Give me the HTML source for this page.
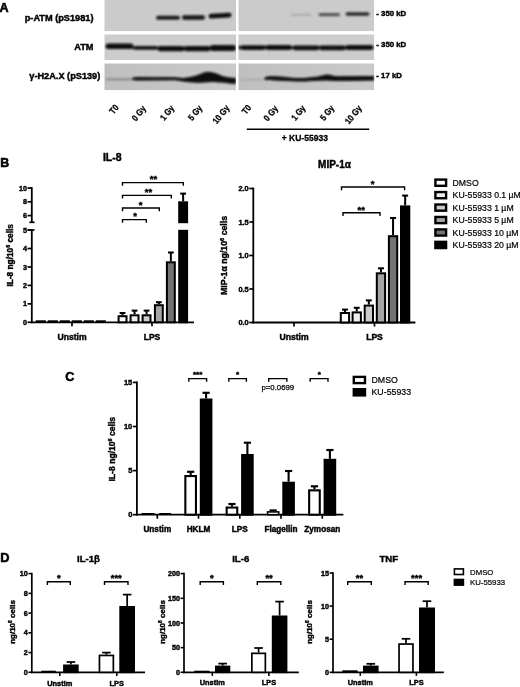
<!DOCTYPE html>
<html lang="en"><head><meta charset="utf-8"><title>Figure</title>
<style>
html,body{margin:0;padding:0;background:#fff;}
body{width:520px;height:687px;overflow:hidden;}
svg{display:block;filter:blur(0.35px);font-family:'Liberation Sans', Arial, sans-serif;fill:#000;}
</style></head><body>
<svg width="520" height="687" viewBox="0 0 520 687">
<defs>
<filter id="b1" x="-5%" y="-50%" width="110%" height="200%"><feGaussianBlur stdDeviation="0.9"/></filter>
<linearGradient id="g3" x1="0" y1="0" x2="1" y2="0"><stop offset="0" stop-color="#bfbfbf"/><stop offset="1" stop-color="#cacaca"/></linearGradient>
<filter id="b2" x="-5%" y="-100%" width="110%" height="300%"><feGaussianBlur stdDeviation="1.1"/></filter>
</defs>
<rect x="0" y="0" width="520" height="687" fill="#fff"/>
<rect x="104.30" y="0.00" width="131.70" height="31.30" fill="#cbcbcb"/>
<rect x="238.30" y="0.00" width="136.00" height="31.30" fill="#cbcbcb"/>
<rect x="104.30" y="34.30" width="131.70" height="25.70" fill="#cdcdcd"/>
<rect x="238.30" y="34.30" width="136.00" height="25.70" fill="#cdcdcd"/>
<rect x="104.30" y="63.30" width="131.70" height="27.00" fill="url(#g3)"/>
<rect x="238.30" y="63.30" width="136.00" height="27.00" fill="url(#g3)"/>
<g filter="url(#b1)">
<rect x="156" y="15.8" width="24" height="4.0" rx="2.0" fill="#1c1c1c" opacity="1"/>
<rect x="182" y="15.3" width="23" height="4.4" rx="2.2" fill="#161616" opacity="1"/>
<rect x="208.5" y="13.25" width="23.0" height="4.7" rx="2.35" fill="#101010" opacity="1" transform="rotate(-3 220.0 15.6)"/>
<rect x="291" y="13.5" width="20" height="2.6" rx="1.3" fill="#777" opacity="0.35"/>
<rect x="318.5" y="13.0" width="21.5" height="3.2" rx="1.6" fill="#3a3a3a" opacity="0.8"/>
<rect x="345.5" y="12.2" width="24.0" height="3.6" rx="1.8" fill="#222" opacity="0.95"/>
<rect x="105.5" y="43.5" width="28.0" height="5.4" rx="2.7" fill="#0c0c0c" opacity="1"/>
<rect x="133.5" y="45.9" width="24.5" height="3.8" rx="1.9" fill="#0c0c0c" opacity="1"/>
<rect x="157.5" y="46.0" width="27.099999999999994" height="5.2" rx="2.6" fill="#0c0c0c" opacity="1"/>
<rect x="183.8" y="45.9" width="26.799999999999983" height="5.4" rx="2.7" fill="#0c0c0c" opacity="1"/>
<rect x="209.8" y="45.1" width="26.19999999999999" height="5.8" rx="2.9" fill="#0c0c0c" opacity="1"/>
<rect x="130" y="46.9" width="106" height="2.2" rx="1.1" fill="#0c0c0c" opacity="1"/>
<rect x="238.3" y="45.5" width="2.1999999999999886" height="4" rx="2.0" fill="#0c0c0c" opacity="1"/>
<rect x="240.5" y="45.2" width="25.5" height="4.8" rx="2.4" fill="#0c0c0c" opacity="1"/>
<rect x="265.5" y="45.1" width="26.5" height="5.0" rx="2.5" fill="#0c0c0c" opacity="1"/>
<rect x="292.5" y="45.4" width="27.0" height="4.8" rx="2.4" fill="#0c0c0c" opacity="1"/>
<rect x="319" y="45.4" width="27" height="4.8" rx="2.4" fill="#0c0c0c" opacity="1"/>
<rect x="345.5" y="44.9" width="28.0" height="5.0" rx="2.5" fill="#0c0c0c" opacity="1"/>
<rect x="238.3" y="46.5" width="133.7" height="2.2" rx="1.1" fill="#0c0c0c" opacity="1"/>
</g>
<g filter="url(#b2)">
<rect x="106" y="78.1" width="28" height="2.4" fill="#666" opacity="0.55"/>
<rect x="241" y="78.6" width="25" height="2" fill="#888" opacity="0.35"/>
</g>
<g filter="url(#b1)">
<path d="M132 78.7 C133 77 136 77 140 77 L175 77.3 L183 77.9 C188 77.6 192 76.6 197 75.2 C201 74 204 71.7 207.7 71.7 C211 71.7 213 72.6 215.8 73.3 C219 74.4 221 75.8 224 76.5 C228 77.4 231 77.8 236 77.9 L236 83.5 C234 84.2 232 84 230 83.6 C227 83 225 82.7 222 82.5 C218 82.2 215 81.9 212 81.9 C206 82.2 201 82.8 197 82.7 C192 82.6 187 82.2 183.5 81.5 L175 80.3 L140 80.4 C136 80.4 133 80.4 132 78.7Z" fill="#080808"/>
<path d="M264.3 78.6 C265 76.2 269 76.1 274 76.2 C282 76.4 290 77.6 296 78 C304 78.2 312 77.2 318 76.4 C322 75.6 325 74.4 327 74.4 C330 74.4 333 76 338 76.2 L360 76 L374.3 76 L374.3 80.6 L350 81 C340 81.2 332 80.6 326 80.4 C316 80.4 308 81.4 298 81.5 C290 81.5 282 80.6 274 80.5 C269 80.4 265 80.6 264.3 78.6Z" fill="#080808"/>
</g>
<rect x="236.00" y="0.00" width="2.30" height="91.00" fill="#fff"/>
<rect x="100.00" y="31.30" width="280.00" height="3.00" fill="#fff"/>
<rect x="100.00" y="60.00" width="280.00" height="3.30" fill="#fff"/>
<rect x="374.30" y="0.00" width="2.00" height="91.00" fill="#fff"/>
<rect x="102.00" y="0.00" width="2.30" height="91.00" fill="#fff"/>
<rect x="100.00" y="90.30" width="280.00" height="2.00" fill="#fff"/>
<text x="-0.6" y="11.6" font-size="12.6" font-weight="700" text-anchor="start" stroke="#000" stroke-width="0.55">A</text>
<text x="93.5" y="21.2" font-size="9.2" font-weight="700" text-anchor="end" stroke="#000" stroke-width="0.42">p-ATM (pS1981)</text>
<text x="93.5" y="50.4" font-size="9.2" font-weight="700" text-anchor="end" stroke="#000" stroke-width="0.42">ATM</text>
<text x="100.3" y="79.2" font-size="9.2" font-weight="700" text-anchor="end" stroke="#000" stroke-width="0.42">γ-H2A.X (pS139)</text>
<text x="376.3" y="16.4" font-size="7.8" font-weight="700" text-anchor="start" stroke="#000" stroke-width="0.42">- 350 kD</text>
<text x="376.3" y="47.1" font-size="7.8" font-weight="700" text-anchor="start" stroke="#000" stroke-width="0.42">- 350 kD</text>
<text x="376.3" y="78.4" font-size="7.8" font-weight="700" text-anchor="start" stroke="#000" stroke-width="0.42">- 17 kD</text>
<text x="0" y="0" font-size="9" font-weight="700" text-anchor="middle" dominant-baseline="central" stroke="#000" stroke-width="0.3" transform="translate(113.8 109.2) rotate(-51) scale(0.86 1)">T0</text>
<text x="0" y="0" font-size="9" font-weight="700" text-anchor="middle" dominant-baseline="central" stroke="#000" stroke-width="0.3" transform="translate(138.8 113.2) rotate(-51) scale(0.86 1)">0 Gy</text>
<text x="0" y="0" font-size="9" font-weight="700" text-anchor="middle" dominant-baseline="central" stroke="#000" stroke-width="0.3" transform="translate(167 112.8) rotate(-51) scale(0.86 1)">1 Gy</text>
<text x="0" y="0" font-size="9" font-weight="700" text-anchor="middle" dominant-baseline="central" stroke="#000" stroke-width="0.3" transform="translate(195 112.8) rotate(-51) scale(0.86 1)">5 Gy</text>
<text x="0" y="0" font-size="9" font-weight="700" text-anchor="middle" dominant-baseline="central" stroke="#000" stroke-width="0.3" transform="translate(220.8 114.4) rotate(-51) scale(0.86 1)">10 Gy</text>
<text x="0" y="0" font-size="9" font-weight="700" text-anchor="middle" dominant-baseline="central" stroke="#000" stroke-width="0.3" transform="translate(246.4 109.4) rotate(-51) scale(0.86 1)">T0</text>
<text x="0" y="0" font-size="9" font-weight="700" text-anchor="middle" dominant-baseline="central" stroke="#000" stroke-width="0.3" transform="translate(270.6 113.2) rotate(-51) scale(0.86 1)">0 Gy</text>
<text x="0" y="0" font-size="9" font-weight="700" text-anchor="middle" dominant-baseline="central" stroke="#000" stroke-width="0.3" transform="translate(298.2 112.8) rotate(-51) scale(0.86 1)">1 Gy</text>
<text x="0" y="0" font-size="9" font-weight="700" text-anchor="middle" dominant-baseline="central" stroke="#000" stroke-width="0.3" transform="translate(327 112.8) rotate(-51) scale(0.86 1)">5 Gy</text>
<text x="0" y="0" font-size="9" font-weight="700" text-anchor="middle" dominant-baseline="central" stroke="#000" stroke-width="0.3" transform="translate(353.2 114.6) rotate(-51) scale(0.86 1)">10 Gy</text>
<line x1="246.8" y1="129.3" x2="369.2" y2="129.3" stroke="#000" stroke-width="1.6"/>
<text x="0" y="0" font-size="9.5" font-weight="700" text-anchor="middle" stroke="#000" stroke-width="0.3" transform="translate(304.8 141) scale(0.9 1)">+ KU-55933</text>
<text x="0.3" y="166.6" font-size="12.4" font-weight="700" text-anchor="start" stroke="#000" stroke-width="0.55">B</text>
<text x="112.3" y="161.4" font-size="10.5" font-weight="700" text-anchor="middle" stroke="#000" stroke-width="0.42">IL-8</text>
<line x1="31.8" y1="187.1" x2="31.8" y2="222.3" stroke="#000" stroke-width="1.8"/>
<line x1="31.8" y1="229.1" x2="31.8" y2="323.2" stroke="#000" stroke-width="1.8"/>
<line x1="29.400000000000002" y1="222.3" x2="34.6" y2="222.3" stroke="#000" stroke-width="1.7"/>
<line x1="27.5" y1="230" x2="34.6" y2="230" stroke="#000" stroke-width="1.7"/>
<line x1="27.5" y1="322.3" x2="31.8" y2="322.3" stroke="#000" stroke-width="1.7"/>
<text x="27.1" y="324.90000000000003" font-size="7.2" font-weight="700" text-anchor="end" stroke="#000" stroke-width="0.42">0</text>
<line x1="27.5" y1="303.85" x2="31.8" y2="303.85" stroke="#000" stroke-width="1.7"/>
<text x="27.1" y="306.45000000000005" font-size="7.2" font-weight="700" text-anchor="end" stroke="#000" stroke-width="0.42">1</text>
<line x1="27.5" y1="285.40000000000003" x2="31.8" y2="285.40000000000003" stroke="#000" stroke-width="1.7"/>
<text x="27.1" y="288.00000000000006" font-size="7.2" font-weight="700" text-anchor="end" stroke="#000" stroke-width="0.42">2</text>
<line x1="27.5" y1="266.95000000000005" x2="31.8" y2="266.95000000000005" stroke="#000" stroke-width="1.7"/>
<text x="27.1" y="269.55000000000007" font-size="7.2" font-weight="700" text-anchor="end" stroke="#000" stroke-width="0.42">3</text>
<line x1="27.5" y1="248.5" x2="31.8" y2="248.5" stroke="#000" stroke-width="1.7"/>
<text x="27.1" y="251.1" font-size="7.2" font-weight="700" text-anchor="end" stroke="#000" stroke-width="0.42">4</text>
<line x1="27.5" y1="230" x2="31.8" y2="230" stroke="#000" stroke-width="1.7"/>
<text x="27.1" y="232.6" font-size="7.2" font-weight="700" text-anchor="end" stroke="#000" stroke-width="0.42">5</text>
<line x1="27.5" y1="215.6" x2="31.8" y2="215.6" stroke="#000" stroke-width="1.7"/>
<text x="27.1" y="218.2" font-size="7.2" font-weight="700" text-anchor="end" stroke="#000" stroke-width="0.42">6</text>
<line x1="27.5" y1="201.8" x2="31.8" y2="201.8" stroke="#000" stroke-width="1.7"/>
<text x="27.1" y="204.4" font-size="7.2" font-weight="700" text-anchor="end" stroke="#000" stroke-width="0.42">8</text>
<line x1="27.5" y1="188.0" x2="31.8" y2="188.0" stroke="#000" stroke-width="1.7"/>
<text x="27.1" y="190.6" font-size="7.2" font-weight="700" text-anchor="end" stroke="#000" stroke-width="0.42">10</text>
<line x1="30.900000000000002" y1="322.3" x2="194" y2="322.3" stroke="#000" stroke-width="1.8"/>
<line x1="72" y1="322.3" x2="72" y2="326.3" stroke="#000" stroke-width="1.7"/>
<line x1="152" y1="322.3" x2="152" y2="326.3" stroke="#000" stroke-width="1.7"/>
<text x="72" y="340" font-size="8.6" font-weight="700" text-anchor="middle" stroke="#000" stroke-width="0.42">Unstim</text>
<text x="152" y="340" font-size="8.6" font-weight="700" text-anchor="middle" stroke="#000" stroke-width="0.42">LPS</text>
<text x="12.6" y="255.3" font-size="8.3" font-weight="700" text-anchor="middle" transform="rotate(-90 12.6 255.3)" stroke="#000" stroke-width="0.4">IL-8 ng/10<tspan font-size="5.4" dy="-3">6</tspan><tspan dy="3"> cells</tspan></text>
<rect x="35.70" y="320.30" width="10.20" height="2.10" fill="#000"/>
<rect x="47.70" y="320.30" width="10.20" height="2.10" fill="#000"/>
<rect x="59.70" y="320.30" width="10.20" height="2.10" fill="#000"/>
<rect x="71.70" y="320.30" width="10.20" height="2.10" fill="#000"/>
<rect x="83.70" y="320.30" width="10.20" height="2.10" fill="#000"/>
<rect x="95.70" y="320.30" width="10.20" height="2.10" fill="#000"/>
<line x1="122.55" y1="315.2" x2="122.55" y2="313" stroke="#000" stroke-width="2.0"/>
<line x1="119.64999999999999" y1="313" x2="125.45" y2="313" stroke="#000" stroke-width="2.04"/>
<rect x="118.60" y="316.20" width="7.90" height="6.10" fill="#ffffff" stroke="#000" stroke-width="2.0"/>
<line x1="134.55" y1="314.3" x2="134.55" y2="310.6" stroke="#000" stroke-width="2.0"/>
<line x1="131.65" y1="310.6" x2="137.45000000000002" y2="310.6" stroke="#000" stroke-width="2.04"/>
<rect x="130.60" y="315.30" width="7.90" height="7.00" fill="#efefef" stroke="#000" stroke-width="2.0"/>
<line x1="146.55" y1="314.3" x2="146.55" y2="310.6" stroke="#000" stroke-width="2.0"/>
<line x1="143.65" y1="310.6" x2="149.45000000000002" y2="310.6" stroke="#000" stroke-width="2.04"/>
<rect x="142.60" y="315.30" width="7.90" height="7.00" fill="#cccccc" stroke="#000" stroke-width="2.0"/>
<line x1="158.85000000000002" y1="304.2" x2="158.85000000000002" y2="302.2" stroke="#000" stroke-width="2.0"/>
<line x1="155.95000000000002" y1="302.2" x2="161.75000000000003" y2="302.2" stroke="#000" stroke-width="2.04"/>
<rect x="154.90" y="305.20" width="7.90" height="17.10" fill="#a6a6a6" stroke="#000" stroke-width="2.0"/>
<line x1="170.85000000000002" y1="261.3" x2="170.85000000000002" y2="252.5" stroke="#000" stroke-width="2.0"/>
<line x1="167.95000000000002" y1="252.5" x2="173.75000000000003" y2="252.5" stroke="#000" stroke-width="2.04"/>
<rect x="166.90" y="262.30" width="7.90" height="60.00" fill="#747474" stroke="#000" stroke-width="2.0"/>
<line x1="183.14999999999998" y1="201.3" x2="183.14999999999998" y2="193.6" stroke="#000" stroke-width="2.0"/>
<line x1="180.24999999999997" y1="193.6" x2="186.04999999999998" y2="193.6" stroke="#000" stroke-width="2.04"/>
<rect x="179.20" y="202.30" width="7.90" height="120.00" fill="#000000" stroke="#000" stroke-width="2.0"/>
<rect x="176.00" y="223.20" width="14.00" height="6.60" fill="#fff"/>
<path d="M122.5 185.79999999999998V182.6H183.3V185.79999999999998" fill="none" stroke="#000" stroke-width="1.4"/>
<text x="153.5" y="182.4" font-size="9.5" font-weight="700" text-anchor="middle" stroke="#000" stroke-width="0.42">**</text>
<path d="M122.5 198.6V195.4H171.3V198.6" fill="none" stroke="#000" stroke-width="1.4"/>
<text x="148.5" y="195.2" font-size="9.5" font-weight="700" text-anchor="middle" stroke="#000" stroke-width="0.42">**</text>
<path d="M122.5 211.2V208H159.3V211.2" fill="none" stroke="#000" stroke-width="1.4"/>
<text x="140.5" y="207.8" font-size="9.5" font-weight="700" text-anchor="middle" stroke="#000" stroke-width="0.42">*</text>
<path d="M122.5 222.79999999999998V219.6H146.3V222.79999999999998" fill="none" stroke="#000" stroke-width="1.4"/>
<text x="135" y="219.4" font-size="9.5" font-weight="700" text-anchor="middle" stroke="#000" stroke-width="0.42">*</text>
<text x="334.5" y="167.8" font-size="10" font-weight="700" text-anchor="middle" stroke="#000" stroke-width="0.42">MIP-1α</text>
<line x1="253.3" y1="187.6" x2="253.3" y2="323.4" stroke="#000" stroke-width="1.8"/>
<line x1="249.3" y1="322.5" x2="253.3" y2="322.5" stroke="#000" stroke-width="1.7"/>
<text x="248.70000000000002" y="325.2" font-size="7.4" font-weight="700" text-anchor="end" stroke="#000" stroke-width="0.42">0.0</text>
<line x1="249.3" y1="289.0" x2="253.3" y2="289.0" stroke="#000" stroke-width="1.7"/>
<text x="248.70000000000002" y="291.7" font-size="7.4" font-weight="700" text-anchor="end" stroke="#000" stroke-width="0.42">0.5</text>
<line x1="249.3" y1="255.5" x2="253.3" y2="255.5" stroke="#000" stroke-width="1.7"/>
<text x="248.70000000000002" y="258.2" font-size="7.4" font-weight="700" text-anchor="end" stroke="#000" stroke-width="0.42">1.0</text>
<line x1="249.3" y1="222.0" x2="253.3" y2="222.0" stroke="#000" stroke-width="1.7"/>
<text x="248.70000000000002" y="224.7" font-size="7.4" font-weight="700" text-anchor="end" stroke="#000" stroke-width="0.42">1.5</text>
<line x1="249.3" y1="188.5" x2="253.3" y2="188.5" stroke="#000" stroke-width="1.7"/>
<text x="248.70000000000002" y="191.2" font-size="7.4" font-weight="700" text-anchor="end" stroke="#000" stroke-width="0.42">2.0</text>
<line x1="252.4" y1="322.5" x2="415.4" y2="322.5" stroke="#000" stroke-width="1.8"/>
<line x1="294" y1="322.5" x2="294" y2="326.5" stroke="#000" stroke-width="1.7"/>
<line x1="374.5" y1="322.5" x2="374.5" y2="326.5" stroke="#000" stroke-width="1.7"/>
<text x="294" y="340" font-size="8.6" font-weight="700" text-anchor="middle" stroke="#000" stroke-width="0.42">Unstim</text>
<text x="374.5" y="340" font-size="8.6" font-weight="700" text-anchor="middle" stroke="#000" stroke-width="0.42">LPS</text>
<text x="227.4" y="255.4" font-size="8.75" font-weight="700" text-anchor="middle" transform="rotate(-90 227.4 255.4)" stroke="#000" stroke-width="0.4">MIP-1α ng/10<tspan font-size="5.6" dy="-3.2">6</tspan><tspan dy="3.2"> cells</tspan></text>
<line x1="344.95" y1="312" x2="344.95" y2="309.6" stroke="#000" stroke-width="2.0"/>
<line x1="341.95" y1="309.6" x2="347.95" y2="309.6" stroke="#000" stroke-width="2.04"/>
<rect x="340.80" y="313.00" width="8.30" height="9.50" fill="#ffffff" stroke="#000" stroke-width="2.0"/>
<line x1="356.75" y1="311.4" x2="356.75" y2="307.8" stroke="#000" stroke-width="2.0"/>
<line x1="353.75" y1="307.8" x2="359.75" y2="307.8" stroke="#000" stroke-width="2.04"/>
<rect x="352.60" y="312.40" width="8.30" height="10.10" fill="#efefef" stroke="#000" stroke-width="2.0"/>
<line x1="368.85" y1="304.6" x2="368.85" y2="300.4" stroke="#000" stroke-width="2.0"/>
<line x1="365.85" y1="300.4" x2="371.85" y2="300.4" stroke="#000" stroke-width="2.04"/>
<rect x="364.70" y="305.60" width="8.30" height="16.90" fill="#cccccc" stroke="#000" stroke-width="2.0"/>
<line x1="380.95" y1="272.3" x2="380.95" y2="268.3" stroke="#000" stroke-width="2.0"/>
<line x1="377.95" y1="268.3" x2="383.95" y2="268.3" stroke="#000" stroke-width="2.04"/>
<rect x="376.80" y="273.30" width="8.30" height="49.20" fill="#a6a6a6" stroke="#000" stroke-width="2.0"/>
<line x1="393.05" y1="235.2" x2="393.05" y2="218" stroke="#000" stroke-width="2.0"/>
<line x1="390.05" y1="218" x2="396.05" y2="218" stroke="#000" stroke-width="2.04"/>
<rect x="388.90" y="236.20" width="8.30" height="86.30" fill="#747474" stroke="#000" stroke-width="2.0"/>
<line x1="405.15" y1="205.4" x2="405.15" y2="195.6" stroke="#000" stroke-width="2.0"/>
<line x1="402.15" y1="195.6" x2="408.15" y2="195.6" stroke="#000" stroke-width="2.04"/>
<rect x="401.00" y="206.40" width="8.30" height="116.10" fill="#000000" stroke="#000" stroke-width="2.0"/>
<path d="M341.5 190.2V187H404.6V190.2" fill="none" stroke="#000" stroke-width="1.4"/>
<text x="372.5" y="186.8" font-size="9.5" font-weight="700" text-anchor="middle" stroke="#000" stroke-width="0.42">*</text>
<path d="M343 215.89999999999998V212.7H380V215.89999999999998" fill="none" stroke="#000" stroke-width="1.4"/>
<text x="361.3" y="212.5" font-size="9.5" font-weight="700" text-anchor="middle" stroke="#000" stroke-width="0.42">**</text>
<rect x="435.40" y="179.60" width="10.70" height="6.20" fill="#ffffff" stroke="#000" stroke-width="2.4"/>
<text x="452.6" y="185.79999999999998" font-size="8.7" font-weight="400" text-anchor="start" stroke="#000" stroke-width="0.2">DMSO</text>
<rect x="435.40" y="192.05" width="10.70" height="6.20" fill="#efefef" stroke="#000" stroke-width="2.4"/>
<text x="452.6" y="198.24999999999997" font-size="8.7" font-weight="400" text-anchor="start" stroke="#000" stroke-width="0.2">KU-55933 0.1 µM</text>
<rect x="435.40" y="204.50" width="10.70" height="6.20" fill="#cccccc" stroke="#000" stroke-width="2.4"/>
<text x="452.6" y="210.7" font-size="8.7" font-weight="400" text-anchor="start" stroke="#000" stroke-width="0.2">KU-55933 1 µM</text>
<rect x="435.40" y="216.95" width="10.70" height="6.20" fill="#a6a6a6" stroke="#000" stroke-width="2.4"/>
<text x="452.6" y="223.14999999999998" font-size="8.7" font-weight="400" text-anchor="start" stroke="#000" stroke-width="0.2">KU-55933 5 µM</text>
<rect x="435.40" y="229.40" width="10.70" height="6.20" fill="#747474" stroke="#000" stroke-width="2.4"/>
<text x="452.6" y="235.6" font-size="8.7" font-weight="400" text-anchor="start" stroke="#000" stroke-width="0.2">KU-55933 10 µM</text>
<rect x="435.40" y="241.85" width="10.70" height="6.20" fill="#000000" stroke="#000" stroke-width="2.4"/>
<text x="452.6" y="248.04999999999998" font-size="8.7" font-weight="400" text-anchor="start" stroke="#000" stroke-width="0.2">KU-55933 20 µM</text>
<text x="65.3" y="380.6" font-size="12.6" font-weight="700" text-anchor="start" stroke="#000" stroke-width="0.55">C</text>
<line x1="136.9" y1="381.50000000000006" x2="136.9" y2="515.6" stroke="#000" stroke-width="1.8"/>
<line x1="132.9" y1="514.7" x2="136.9" y2="514.7" stroke="#000" stroke-width="1.7"/>
<text x="132.3" y="517.4000000000001" font-size="7.5" font-weight="700" text-anchor="end" stroke="#000" stroke-width="0.42">0</text>
<line x1="132.9" y1="470.6" x2="136.9" y2="470.6" stroke="#000" stroke-width="1.7"/>
<text x="132.3" y="473.3" font-size="7.5" font-weight="700" text-anchor="end" stroke="#000" stroke-width="0.42">5</text>
<line x1="132.9" y1="426.50000000000006" x2="136.9" y2="426.50000000000006" stroke="#000" stroke-width="1.7"/>
<text x="132.3" y="429.20000000000005" font-size="7.5" font-weight="700" text-anchor="end" stroke="#000" stroke-width="0.42">10</text>
<line x1="132.9" y1="382.40000000000003" x2="136.9" y2="382.40000000000003" stroke="#000" stroke-width="1.7"/>
<text x="132.3" y="385.1" font-size="7.5" font-weight="700" text-anchor="end" stroke="#000" stroke-width="0.42">15</text>
<line x1="136.0" y1="514.7" x2="343.4" y2="514.7" stroke="#000" stroke-width="1.8"/>
<line x1="157.3" y1="514.7" x2="157.3" y2="518.7" stroke="#000" stroke-width="1.7"/>
<text x="157.3" y="531.6" font-size="8.2" font-weight="700" text-anchor="middle" stroke="#000" stroke-width="0.42">Unstim</text>
<line x1="198.5" y1="514.7" x2="198.5" y2="518.7" stroke="#000" stroke-width="1.7"/>
<text x="198.5" y="531.6" font-size="8.2" font-weight="700" text-anchor="middle" stroke="#000" stroke-width="0.42">HKLM</text>
<line x1="239.8" y1="514.7" x2="239.8" y2="518.7" stroke="#000" stroke-width="1.7"/>
<text x="239.8" y="531.6" font-size="8.2" font-weight="700" text-anchor="middle" stroke="#000" stroke-width="0.42">LPS</text>
<line x1="281" y1="514.7" x2="281" y2="518.7" stroke="#000" stroke-width="1.7"/>
<text x="281" y="531.6" font-size="8.2" font-weight="700" text-anchor="middle" stroke="#000" stroke-width="0.42">Flagellin</text>
<line x1="322.3" y1="514.7" x2="322.3" y2="518.7" stroke="#000" stroke-width="1.7"/>
<text x="322.3" y="531.6" font-size="8.2" font-weight="700" text-anchor="middle" stroke="#000" stroke-width="0.42">Zymosan</text>
<text x="114.6" y="449.2" font-size="8.6" font-weight="700" text-anchor="middle" transform="rotate(-90 114.6 449.2)" stroke="#000" stroke-width="0.4">IL-8 ng/10<tspan font-size="5.4" dy="-3">6</tspan><tspan dy="3"> cells</tspan></text>
<rect x="141.50" y="513.00" width="13.20" height="1.80" fill="#000"/>
<rect x="159.20" y="513.00" width="11.80" height="1.80" fill="#000"/>
<line x1="190.65" y1="475" x2="190.65" y2="471.8" stroke="#000" stroke-width="2.1"/>
<line x1="187.05" y1="471.8" x2="194.25" y2="471.8" stroke="#000" stroke-width="2.1420000000000003"/>
<rect x="185.35" y="476.05" width="10.60" height="38.65" fill="#fff" stroke="#000" stroke-width="2.1"/>
<line x1="206.10000000000002" y1="398.5" x2="206.10000000000002" y2="392.8" stroke="#000" stroke-width="2.1"/>
<line x1="202.50000000000003" y1="392.8" x2="209.70000000000002" y2="392.8" stroke="#000" stroke-width="2.1420000000000003"/>
<rect x="200.85" y="399.55" width="10.50" height="115.15" fill="#000" stroke="#000" stroke-width="2.1"/>
<line x1="231.95000000000002" y1="506.5" x2="231.95000000000002" y2="504" stroke="#000" stroke-width="2.1"/>
<line x1="228.35000000000002" y1="504" x2="235.55" y2="504" stroke="#000" stroke-width="2.1420000000000003"/>
<rect x="226.65" y="507.55" width="10.60" height="7.15" fill="#fff" stroke="#000" stroke-width="2.1"/>
<line x1="247.40000000000003" y1="454" x2="247.40000000000003" y2="442.7" stroke="#000" stroke-width="2.1"/>
<line x1="243.80000000000004" y1="442.7" x2="251.00000000000003" y2="442.7" stroke="#000" stroke-width="2.1420000000000003"/>
<rect x="242.15" y="455.05" width="10.50" height="59.65" fill="#000" stroke="#000" stroke-width="2.1"/>
<line x1="273.15" y1="511.1" x2="273.15" y2="510.4" stroke="#000" stroke-width="2.1"/>
<line x1="269.54999999999995" y1="510.4" x2="276.75" y2="510.4" stroke="#000" stroke-width="2.1420000000000003"/>
<rect x="267.60" y="511.90" width="11.10" height="2.80" fill="#fff" stroke="#000" stroke-width="1.6"/>
<line x1="288.6" y1="481.7" x2="288.6" y2="471" stroke="#000" stroke-width="2.1"/>
<line x1="285.0" y1="471" x2="292.20000000000005" y2="471" stroke="#000" stroke-width="2.1420000000000003"/>
<rect x="283.35" y="482.75" width="10.50" height="31.95" fill="#000" stroke="#000" stroke-width="2.1"/>
<line x1="314.45000000000005" y1="489.3" x2="314.45000000000005" y2="486.3" stroke="#000" stroke-width="2.1"/>
<line x1="310.85" y1="486.3" x2="318.05000000000007" y2="486.3" stroke="#000" stroke-width="2.1420000000000003"/>
<rect x="309.15" y="490.35" width="10.60" height="24.35" fill="#fff" stroke="#000" stroke-width="2.1"/>
<line x1="329.9" y1="458.8" x2="329.9" y2="450" stroke="#000" stroke-width="2.1"/>
<line x1="326.29999999999995" y1="450" x2="333.5" y2="450" stroke="#000" stroke-width="2.1420000000000003"/>
<rect x="324.65" y="459.85" width="10.50" height="54.85" fill="#000" stroke="#000" stroke-width="2.1"/>
<path d="M188.8 381.8V378.6H206.6V381.8" fill="none" stroke="#000" stroke-width="1.4"/>
<text x="197.6" y="377.4" font-size="8" font-weight="700" text-anchor="middle" stroke="#000" stroke-width="0.42">***</text>
<path d="M228.8 381.8V378.6H246.4V381.8" fill="none" stroke="#000" stroke-width="1.4"/>
<text x="237.6" y="377.4" font-size="8" font-weight="700" text-anchor="middle" stroke="#000" stroke-width="0.42">*</text>
<path d="M268.7 381.8V378.6H286.8V381.8" fill="none" stroke="#000" stroke-width="1.4"/>
<text x="277.8" y="390.4" font-size="7.8" font-weight="400" text-anchor="middle" stroke="#000" stroke-width="0.25">p=0.0699</text>
<path d="M310.2 381.8V378.6H328V381.8" fill="none" stroke="#000" stroke-width="1.4"/>
<text x="319.2" y="377.4" font-size="8" font-weight="700" text-anchor="middle" stroke="#000" stroke-width="0.42">*</text>
<rect x="353.80" y="376.90" width="11.20" height="6.20" fill="#fff" stroke="#000" stroke-width="2.4"/>
<text x="371.5" y="383.1" font-size="8.8" font-weight="400" text-anchor="start" stroke="#000" stroke-width="0.2">DMSO</text>
<rect x="353.80" y="389.20" width="11.20" height="6.20" fill="#000" stroke="#000" stroke-width="2.4"/>
<text x="371.5" y="395.40000000000003" font-size="8.8" font-weight="400" text-anchor="start" stroke="#000" stroke-width="0.2">KU-55933</text>
<text x="0.3" y="562.2" font-size="12.8" font-weight="700" text-anchor="start" stroke="#000" stroke-width="0.55">D</text>
<line x1="31.8" y1="572.75" x2="31.8" y2="673.15" stroke="#000" stroke-width="1.7"/>
<line x1="28.400000000000002" y1="672.3" x2="31.8" y2="672.3" stroke="#000" stroke-width="1.6"/>
<text x="27.8" y="674.9" font-size="7.2" font-weight="700" text-anchor="end" stroke="#000" stroke-width="0.42">0</text>
<line x1="28.400000000000002" y1="652.6" x2="31.8" y2="652.6" stroke="#000" stroke-width="1.6"/>
<text x="27.8" y="655.2" font-size="7.2" font-weight="700" text-anchor="end" stroke="#000" stroke-width="0.42">2</text>
<line x1="28.400000000000002" y1="632.8" x2="31.8" y2="632.8" stroke="#000" stroke-width="1.6"/>
<text x="27.8" y="635.4" font-size="7.2" font-weight="700" text-anchor="end" stroke="#000" stroke-width="0.42">4</text>
<line x1="28.400000000000002" y1="613.1" x2="31.8" y2="613.1" stroke="#000" stroke-width="1.6"/>
<text x="27.8" y="615.7" font-size="7.2" font-weight="700" text-anchor="end" stroke="#000" stroke-width="0.42">6</text>
<line x1="28.400000000000002" y1="593.4" x2="31.8" y2="593.4" stroke="#000" stroke-width="1.6"/>
<text x="27.8" y="596.0" font-size="7.2" font-weight="700" text-anchor="end" stroke="#000" stroke-width="0.42">8</text>
<line x1="28.400000000000002" y1="573.6" x2="31.8" y2="573.6" stroke="#000" stroke-width="1.6"/>
<text x="27.8" y="576.2" font-size="7.2" font-weight="700" text-anchor="end" stroke="#000" stroke-width="0.42">10</text>
<line x1="30.95" y1="672.3" x2="145" y2="672.3" stroke="#000" stroke-width="1.7"/>
<line x1="59.8" y1="672.3" x2="59.8" y2="675.9" stroke="#000" stroke-width="1.6"/>
<text x="59.8" y="686.2" font-size="7.4" font-weight="700" text-anchor="middle" stroke="#000" stroke-width="0.42">Unstim</text>
<line x1="116.8" y1="672.3" x2="116.8" y2="675.9" stroke="#000" stroke-width="1.6"/>
<text x="116.8" y="686.2" font-size="7.4" font-weight="700" text-anchor="middle" stroke="#000" stroke-width="0.42">LPS</text>
<text x="88.5" y="562" font-size="9.6" font-weight="700" text-anchor="middle" stroke="#000" stroke-width="0.42">IL-1β</text>
<text x="14.5" y="622" font-size="8.0" font-weight="700" text-anchor="middle" transform="rotate(-90 14.5 622)" stroke="#000" stroke-width="0.4">ng/10<tspan font-size="5" dy="-2.8">6</tspan><tspan dy="2.8"> cells</tspan></text>
<rect x="41.30" y="670.70" width="14.50" height="1.70" fill="#000"/>
<line x1="70.9" y1="664.5" x2="70.9" y2="662" stroke="#000" stroke-width="1.7"/>
<line x1="66.60000000000001" y1="662" x2="75.2" y2="662" stroke="#000" stroke-width="1.734"/>
<rect x="63.95" y="665.35" width="13.90" height="6.95" fill="#000" stroke="#000" stroke-width="1.7"/>
<line x1="106.4" y1="654.6" x2="106.4" y2="652.6" stroke="#000" stroke-width="1.7"/>
<line x1="102.10000000000001" y1="652.6" x2="110.7" y2="652.6" stroke="#000" stroke-width="1.734"/>
<rect x="99.45" y="655.45" width="13.90" height="16.85" fill="#fff" stroke="#000" stroke-width="1.7"/>
<line x1="127.15" y1="606" x2="127.15" y2="594.6" stroke="#000" stroke-width="1.7"/>
<line x1="122.85000000000001" y1="594.6" x2="131.45000000000002" y2="594.6" stroke="#000" stroke-width="1.734"/>
<rect x="120.15" y="606.85" width="14.00" height="65.45" fill="#000" stroke="#000" stroke-width="1.7"/>
<path d="M47.4 584.9000000000001V581.7H70.3V584.9000000000001" fill="none" stroke="#000" stroke-width="1.4"/>
<text x="58.849999999999994" y="581.2" font-size="9.4" font-weight="700" text-anchor="middle" stroke="#000" stroke-width="0.42">*</text>
<path d="M104.5 584.9000000000001V581.7H128V584.9000000000001" fill="none" stroke="#000" stroke-width="1.4"/>
<text x="116.25" y="581.2" font-size="9.4" font-weight="700" text-anchor="middle" stroke="#000" stroke-width="0.42">***</text>
<line x1="184" y1="572.75" x2="184" y2="673.15" stroke="#000" stroke-width="1.7"/>
<line x1="180.6" y1="672.3" x2="184" y2="672.3" stroke="#000" stroke-width="1.6"/>
<text x="180" y="674.9" font-size="7.2" font-weight="700" text-anchor="end" stroke="#000" stroke-width="0.42">0</text>
<line x1="180.6" y1="647.6" x2="184" y2="647.6" stroke="#000" stroke-width="1.6"/>
<text x="180" y="650.2" font-size="7.2" font-weight="700" text-anchor="end" stroke="#000" stroke-width="0.42">50</text>
<line x1="180.6" y1="623" x2="184" y2="623" stroke="#000" stroke-width="1.6"/>
<text x="180" y="625.6" font-size="7.2" font-weight="700" text-anchor="end" stroke="#000" stroke-width="0.42">100</text>
<line x1="180.6" y1="598.3" x2="184" y2="598.3" stroke="#000" stroke-width="1.6"/>
<text x="180" y="600.9" font-size="7.2" font-weight="700" text-anchor="end" stroke="#000" stroke-width="0.42">150</text>
<line x1="180.6" y1="573.6" x2="184" y2="573.6" stroke="#000" stroke-width="1.6"/>
<text x="180" y="576.2" font-size="7.2" font-weight="700" text-anchor="end" stroke="#000" stroke-width="0.42">200</text>
<line x1="183.15" y1="672.3" x2="298.8" y2="672.3" stroke="#000" stroke-width="1.7"/>
<line x1="212.3" y1="672.3" x2="212.3" y2="675.9" stroke="#000" stroke-width="1.6"/>
<text x="212.3" y="685.2" font-size="7.4" font-weight="700" text-anchor="middle" stroke="#000" stroke-width="0.42">Unstim</text>
<line x1="268.9" y1="672.3" x2="268.9" y2="675.9" stroke="#000" stroke-width="1.6"/>
<text x="268.9" y="685.2" font-size="7.4" font-weight="700" text-anchor="middle" stroke="#000" stroke-width="0.42">LPS</text>
<text x="240.7" y="562" font-size="9.6" font-weight="700" text-anchor="middle" stroke="#000" stroke-width="0.42">IL-6</text>
<text x="164.7" y="622" font-size="8.0" font-weight="700" text-anchor="middle" transform="rotate(-90 164.7 622)" stroke="#000" stroke-width="0.4">ng/10<tspan font-size="5" dy="-2.8">6</tspan><tspan dy="2.8"> cells</tspan></text>
<rect x="194.30" y="670.70" width="15.20" height="1.70" fill="#000"/>
<line x1="222.65" y1="665.6" x2="222.65" y2="663.6" stroke="#000" stroke-width="1.7"/>
<line x1="218.35" y1="663.6" x2="226.95000000000002" y2="663.6" stroke="#000" stroke-width="1.734"/>
<rect x="215.85" y="666.45" width="13.60" height="5.85" fill="#000" stroke="#000" stroke-width="1.7"/>
<line x1="258.6" y1="652.5" x2="258.6" y2="648" stroke="#000" stroke-width="1.7"/>
<line x1="254.3" y1="648" x2="262.90000000000003" y2="648" stroke="#000" stroke-width="1.734"/>
<rect x="251.85" y="653.35" width="13.50" height="18.95" fill="#fff" stroke="#000" stroke-width="1.7"/>
<line x1="279.6" y1="615.5" x2="279.6" y2="601.6" stroke="#000" stroke-width="1.7"/>
<line x1="275.3" y1="601.6" x2="283.90000000000003" y2="601.6" stroke="#000" stroke-width="1.734"/>
<rect x="272.65" y="616.35" width="13.90" height="55.95" fill="#000" stroke="#000" stroke-width="1.7"/>
<path d="M200.2 584.9000000000001V581.7H223.4V584.9000000000001" fill="none" stroke="#000" stroke-width="1.4"/>
<text x="211.8" y="581.2" font-size="9.4" font-weight="700" text-anchor="middle" stroke="#000" stroke-width="0.42">*</text>
<path d="M257.3 584.9000000000001V581.7H280.8V584.9000000000001" fill="none" stroke="#000" stroke-width="1.4"/>
<text x="269.05" y="581.2" font-size="9.4" font-weight="700" text-anchor="middle" stroke="#000" stroke-width="0.42">**</text>
<line x1="333" y1="572.15" x2="333" y2="673.15" stroke="#000" stroke-width="1.7"/>
<line x1="329.6" y1="672.3" x2="333" y2="672.3" stroke="#000" stroke-width="1.6"/>
<text x="329" y="674.9" font-size="7.2" font-weight="700" text-anchor="end" stroke="#000" stroke-width="0.42">0</text>
<line x1="329.6" y1="639.2" x2="333" y2="639.2" stroke="#000" stroke-width="1.6"/>
<text x="329" y="641.8000000000001" font-size="7.2" font-weight="700" text-anchor="end" stroke="#000" stroke-width="0.42">5</text>
<line x1="329.6" y1="606.1" x2="333" y2="606.1" stroke="#000" stroke-width="1.6"/>
<text x="329" y="608.7" font-size="7.2" font-weight="700" text-anchor="end" stroke="#000" stroke-width="0.42">10</text>
<line x1="329.6" y1="573" x2="333" y2="573" stroke="#000" stroke-width="1.6"/>
<text x="329" y="575.6" font-size="7.2" font-weight="700" text-anchor="end" stroke="#000" stroke-width="0.42">15</text>
<line x1="332.15" y1="672.3" x2="443.8" y2="672.3" stroke="#000" stroke-width="1.7"/>
<line x1="360.3" y1="672.3" x2="360.3" y2="675.9" stroke="#000" stroke-width="1.6"/>
<text x="360.3" y="685.2" font-size="7.4" font-weight="700" text-anchor="middle" stroke="#000" stroke-width="0.42">Unstim</text>
<line x1="416.4" y1="672.3" x2="416.4" y2="675.9" stroke="#000" stroke-width="1.6"/>
<text x="416.4" y="685.2" font-size="7.4" font-weight="700" text-anchor="middle" stroke="#000" stroke-width="0.42">LPS</text>
<text x="388.8" y="562" font-size="9.6" font-weight="700" text-anchor="middle" stroke="#000" stroke-width="0.42">TNF</text>
<text x="312.2" y="622" font-size="8.0" font-weight="700" text-anchor="middle" transform="rotate(-90 312.2 622)" stroke="#000" stroke-width="0.4">ng/10<tspan font-size="5" dy="-2.8">6</tspan><tspan dy="2.8"> cells</tspan></text>
<rect x="342.30" y="670.30" width="15.30" height="2.10" fill="#000"/>
<line x1="370.8" y1="665.6" x2="370.8" y2="663.8" stroke="#000" stroke-width="1.7"/>
<line x1="366.5" y1="663.8" x2="375.1" y2="663.8" stroke="#000" stroke-width="1.734"/>
<rect x="363.85" y="666.45" width="13.90" height="5.85" fill="#000" stroke="#000" stroke-width="1.7"/>
<line x1="406.0" y1="643.2" x2="406.0" y2="638.8" stroke="#000" stroke-width="1.7"/>
<line x1="401.7" y1="638.8" x2="410.3" y2="638.8" stroke="#000" stroke-width="1.734"/>
<rect x="399.05" y="644.05" width="13.90" height="28.25" fill="#fff" stroke="#000" stroke-width="1.7"/>
<line x1="427.0" y1="607.5" x2="427.0" y2="601.2" stroke="#000" stroke-width="1.7"/>
<line x1="422.7" y1="601.2" x2="431.3" y2="601.2" stroke="#000" stroke-width="1.734"/>
<rect x="419.85" y="608.35" width="14.30" height="63.95" fill="#000" stroke="#000" stroke-width="1.7"/>
<path d="M347.7 584.9000000000001V581.7H371.3V584.9000000000001" fill="none" stroke="#000" stroke-width="1.4"/>
<text x="359.5" y="581.2" font-size="9.4" font-weight="700" text-anchor="middle" stroke="#000" stroke-width="0.42">**</text>
<path d="M405 584.9000000000001V581.7H428.2V584.9000000000001" fill="none" stroke="#000" stroke-width="1.4"/>
<text x="416.6" y="581.2" font-size="9.4" font-weight="700" text-anchor="middle" stroke="#000" stroke-width="0.42">***</text>
<rect x="454.40" y="568.90" width="9.00" height="5.60" fill="#fff" stroke="#000" stroke-width="1.6"/>
<text x="470" y="574.5" font-size="7.8" font-weight="400" text-anchor="start" stroke="#000" stroke-width="0.2">DMSO</text>
<rect x="454.40" y="579.50" width="9.00" height="5.60" fill="#000" stroke="#000" stroke-width="1.6"/>
<text x="470" y="585.1" font-size="7.8" font-weight="400" text-anchor="start" stroke="#000" stroke-width="0.2">KU-55933</text>
</svg>
</body></html>
